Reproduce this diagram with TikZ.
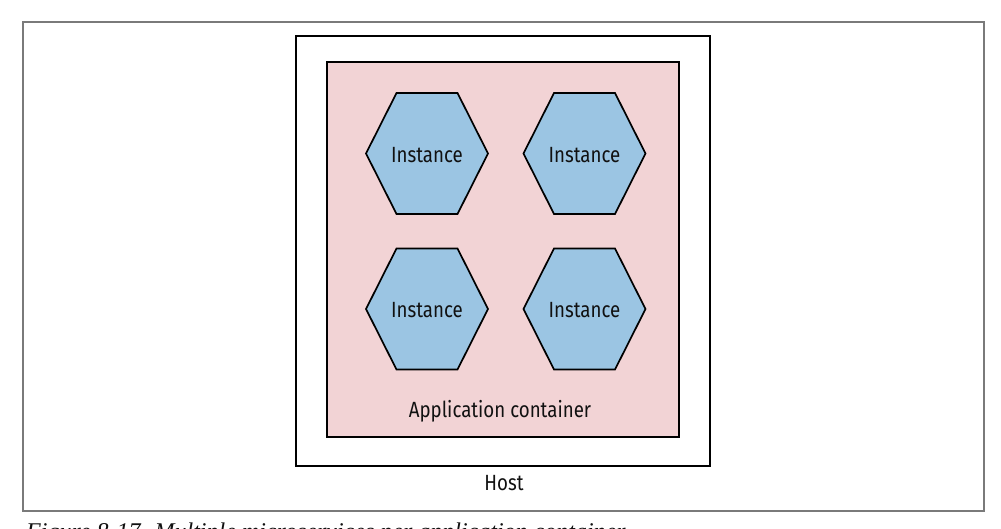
\documentclass[tikz,border=0pt]{standalone}
\usepackage{fontspec}
\setmainfont{Fira Sans}[FakeStretch=0.85]
\newfontfamily\capfont{Liberation Serif}
\usetikzlibrary{calc}
\definecolor{framegray}{HTML}{7A7A7A}
\definecolor{pinkfill}{HTML}{F2D3D5}
\definecolor{bluefill}{HTML}{9BC5E3}
\definecolor{inktext}{HTML}{111111}
\tikzset{
  outerframe/.style={draw=framegray, line width=1.1pt},
  hostbox/.style={draw=black, line width=2pt, fill=white},
  appbox/.style={draw=black, line width=2pt, fill=pinkfill},
  hexshape/.style={draw=black, line width=1.7pt, fill=bluefill, line join=miter},
  lbl/.style={font=\fontsize{22}{26}\selectfont, text=inktext, inner sep=0pt},
}
\newcommand\hexinst[2]{%
  \path[hexshape] ($(#1)+(-61,0)$) -- ++(30.5,-60.5) -- ++(61,0) -- ++(30.5,60.5) -- ++(-30.5,60.5) -- ++(-61,0) -- cycle;
  \node[lbl] (#2) at ($(#1)+(0,1.5)$) {Instance};
}
\begin{document}
\begin{tikzpicture}[x=1pt,y=-1pt]
\useasboundingbox (0,0) rectangle (1001,529);
\fill[white] (0,0) rectangle (1001,529);
\draw[outerframe] (23,22) rectangle (984,511);
\draw[hostbox] (296,36) rectangle (710,466);
\draw[appbox] (327,62) rectangle (679,437);
\coordinate (c1) at (427,153.5);
\coordinate (c2) at (584.5,153.5);
\coordinate (c3) at (427,309);
\coordinate (c4) at (584.5,309);
\hexinst{c1}{i1}
\hexinst{c2}{i2}
\hexinst{c3}{i3}
\hexinst{c4}{i4}
\node[lbl, anchor=base] (applbl) at (500,417) {Application container};
\node[lbl, anchor=base] (hostlbl) at (504,490) {Host};
\node[anchor=base west, inner sep=0pt, font=\capfont\itshape\fontsize{24}{28}\selectfont, text=inktext] (caption) at (26,539) {Figure 8-17. Multiple microservices per application container};
\end{tikzpicture}
\end{document}
